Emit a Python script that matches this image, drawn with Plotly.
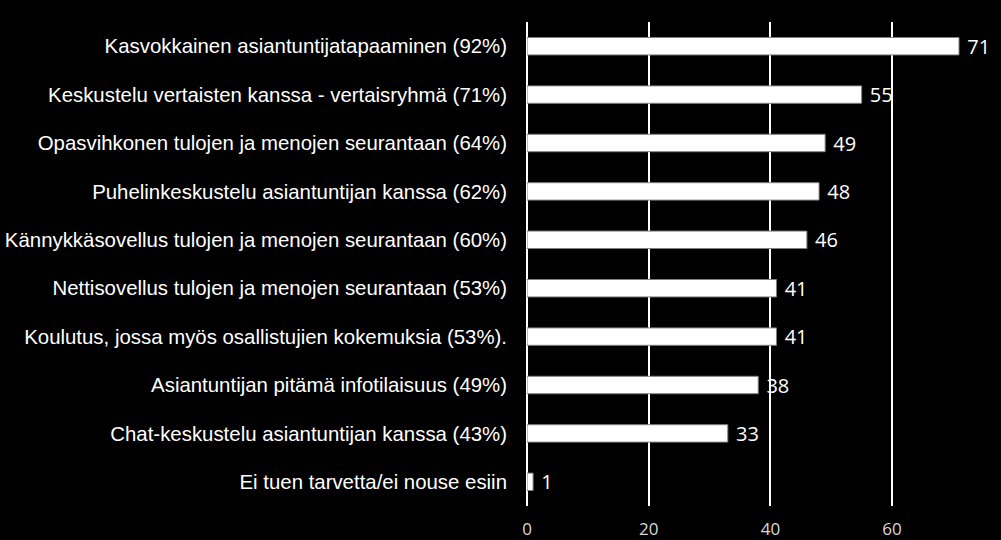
import plotly.graph_objects as go

# categories from top to bottom, as shown
labels = [
    "Kasvokkainen asiantuntijatapaaminen (92%)",
    "Keskustelu vertaisten kanssa - vertaisryhmä (71%)",
    "Opasvihkonen tulojen ja menojen seurantaan (64%)",
    "Puhelinkeskustelu asiantuntijan kanssa (62%)",
    "Kännykkäsovellus tulojen ja menojen seurantaan (60%)",
    "Nettisovellus tulojen ja menojen seurantaan (53%)",
    "Koulutus, jossa myös osallistujien kokemuksia (53%).",
    "Asiantuntijan pitämä infotilaisuus (49%)",
    "Chat-keskustelu asiantuntijan kanssa (43%)",
    "Ei tuen tarvetta/ei nouse esiin",
]
values = [71, 55, 49, 48, 46, 41, 41, 38, 33, 1]
x_ticks = [0, 20, 40, 60]

fig = go.Figure()
fig.add_trace(go.Bar(
    x=values, y=labels, orientation="h",
    marker=dict(color="white", line=dict(color="#7f7f7f", width=1)),
    texttemplate="\u00a0%{x}", textposition="outside",
    constraintext="none",
    textfont=dict(color="white", size=20, family="Open Sans"),
    cliponaxis=False, width=0.36,
))

fig.update_layout(
    width=1001, height=540,
    paper_bgcolor="black", plot_bgcolor="black",
    margin=dict(l=527, r=0, t=22, b=34),
    showlegend=False,
    font=dict(family="Open Sans", color="white"),
)
fig.update_xaxes(range=[0, 77.9], tickvals=x_ticks, showgrid=True,
                 gridcolor="white", gridwidth=2, zeroline=True, zerolinecolor="white",
                 zerolinewidth=2, tickfont=dict(size=17, color="#d9d9d9"), ticklen=0,
                 ticklabelstandoff=11)
fig.update_yaxes(autorange="reversed",
                 tickfont=dict(size=20.4, color="white", family="Liberation Sans"),
                 ticklabelstandoff=19, showgrid=False)

# drop the page margin so the chart fills the window
fig.write_html("out.html", config={"displayModeBar": False},
               post_script="document.body.style.margin='0';document.body.style.background='black';")
